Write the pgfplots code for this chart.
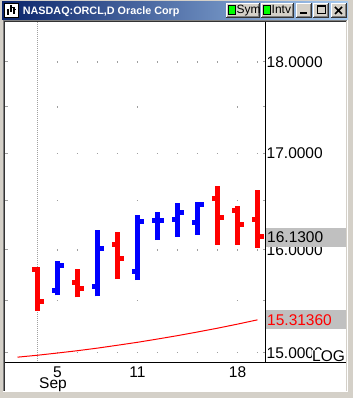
\documentclass[border=0pt]{standalone}
\usepackage{fontspec}
\setmainfont{Liberation Sans}
\usepackage{pgfplots}
\pgfplotsset{compat=1.18}
\definecolor{wingray}{HTML}{D4D0C8}
\definecolor{tbleft}{HTML}{0A246A}
\definecolor{tbright}{HTML}{A6CAF0}
\definecolor{boxgray}{HTML}{C0C0C0}
\definecolor{gridgray}{HTML}{A0A0A0}
\definecolor{barred}{HTML}{FF0000}
\definecolor{barblue}{HTML}{0000FF}
\definecolor{btngreen}{HTML}{00FF00}
\newcommand\lbl{\fontsize{15.5}{16}\selectfont}
\newcommand\winbtn[4]{%
  \fill[wingray] (#1,#2) rectangle (#3,#4);
  \draw[white,line width=1pt] (#1+0.5,#2) -- (#1+0.5,#4-0.5) -- (#3,#4-0.5);
  \draw[black!80,line width=1pt] (#1,#2+0.5) -- (#3-0.5,#2+0.5) -- (#3-0.5,#4);
  \draw[gray,line width=1pt] (#1+1,#2+1.5) -- (#3-1.5,#2+1.5) -- (#3-1.5,#4-1);
}
\begin{document}
\begin{tikzpicture}[x=1pt,y=1pt]
\useasboundingbox (0,0) rectangle (353,398);
\fill[wingray] (0,0) rectangle (353,398);
% title bar
\shade[left color=tbleft, right color=tbright] (2,378) rectangle (348,396);
% icon
\fill[white] (4,380) rectangle (19,395);
\draw[black,line width=1pt] (4.5,380.5) rectangle (18.5,394.5);
\draw[black,line width=1.5pt] (8,383) -- (8,389) (11,386) -- (11,393) (14,384) -- (14,391);
\draw[black,line width=1pt] (6.5,387) -- (8,387) (11,390) -- (12.5,390) (9.5,389) -- (11,389) (14,388) -- (15.5,388);
\node[anchor=base west, inner sep=0pt, text=white, font=\fontsize{10.8}{12}\selectfont\bfseries] at (22.7,383) {NASDAQ:ORCL,D Oracle Corp};
% buttons
\winbtn{226}{380}{260}{395}
\fill[btngreen] (228.5,383.5) rectangle (235.5,392.5);
\draw[black,line width=1pt] (228.5,383.5) rectangle (235.5,392.5);
\node[anchor=base west, inner sep=0pt, font=\fontsize{12}{13}\selectfont] at (236.5,384) {Sym};
\winbtn{261}{380}{294}{395}
\fill[btngreen] (263.5,383.5) rectangle (270.5,392.5);
\draw[black,line width=1pt] (263.5,383.5) rectangle (270.5,392.5);
\node[anchor=base west, inner sep=0pt, font=\fontsize{12}{13}\selectfont] at (271.5,384) {Intv};
\winbtn{296}{380}{312}{395}
\draw[black,line width=2pt] (300,384.5) -- (307,384.5);
\winbtn{313}{380}{329}{395}
\draw[black,line width=1pt] (317.5,384.5) rectangle (325.5,392);
\draw[black,line width=1pt] (317.5,391.5) -- (325.5,391.5);
\winbtn{331}{380}{347}{395}
\draw[black,line width=1.6pt] (335,384) -- (342,391) (335,391) -- (342,384);
% client area
\fill[white] (5,7) rectangle (346,376);
\draw[gray,line width=1pt] (3.5,6) -- (3.5,377.5) -- (347,377.5);
\draw[black!80,line width=1pt] (4.5,7) -- (4.5,376.5) -- (346,376.5);
\draw[white,line width=1pt] (3,6.5) -- (347.5,6.5) -- (347.5,378);
\begin{axis}[
  at={(5pt,35pt)}, anchor=south west, scale only axis,
  width=260pt, height=341pt,
  xmin=-1.625, xmax=11.375,
  ymode=log, ymin=14.906, ymax=18.457,
  axis line style={draw=none},
  clip=false,
  unbounded coords=jump,
  tick align=inside,
  tick style={gridgray, line width=1pt},
  major tick length=2.5pt, minor tick length=2.5pt,
  xtick={1,5,10}, xticklabels={5,11,18},
  xtick style={draw=none},
  xticklabel style={anchor=base, yshift=-14.5pt, inner sep=0pt, font=\lbl},
  extra x ticks={0}, extra x tick labels={\empty},
  extra x tick style={grid=major, major grid style={gridgray, line width=1pt, dash pattern=on 1pt off 1pt}},
  ytick={15,16,17,18}, yticklabels={15.0000,16.0000,17.0000,18.0000},
  minor ytick={15.5,16.5,17.5},
  ytick pos=both, yticklabel pos=right,
  yticklabel style={anchor=west, inner sep=0pt, xshift=1.5pt, font=\lbl},
  ymajorgrids, yminorgrids,
  major grid style={gridgray, line width=1.2pt, dash pattern=on 0pt off 51.85pt on 1.3pt off 18.7pt on 1.3pt off 18.7pt on 1.3pt off 18.7pt on 1.3pt off 18.7pt on 1.3pt off 18.7pt on 1.3pt off 18.7pt on 1.3pt off 18.7pt on 1.3pt off 18.7pt on 1.3pt off 18.7pt on 1.3pt off 18.7pt on 1.3pt off 100pt},
  minor grid style={gridgray, line width=1.2pt, dash pattern=on 0pt off 51.85pt on 1.3pt off 78.7pt on 1.3pt off 98.7pt on 1.3pt off 100pt},
]
% moving average
\addplot[barred, line width=1pt] coordinates {
 (-1,14.96) (0,14.978) (1,14.999) (2,15.021) (3,15.045) (4,15.072) (5,15.10)
 (6,15.131) (7,15.163) (8,15.198) (9,15.234) (10,15.273) (11,15.3136)};
% red bars (close < open): high-low
\addplot[barred, line width=5pt, line cap=butt] coordinates {
 (0,15.40) (0,15.83) (0,nan)
 (2,15.53) (2,15.81) (2,nan)
 (4,15.71) (4,16.18) (4,nan)
 (9,16.05) (9,16.65) (9,nan)
 (10,16.05) (10,16.45) (10,nan)
 (11,16.02) (11,16.61)};
% red opens
\addplot[barred, line width=5pt, line cap=butt] coordinates {
 (-0.275,15.80) (0,15.80) (0,nan)
 (1.725,15.68) (2,15.68) (2,nan)
 (3.725,16.05) (4,16.05) (4,nan)
 (8.725,16.52) (9,16.52) (9,nan)
 (9.725,16.40) (10,16.40) (10,nan)
 (10.725,16.31) (11,16.31)};
% red closes
\addplot[barred, line width=5pt, line cap=butt] coordinates {
 (0,15.49) (0.325,15.49) (0,nan)
 (2,15.62) (2.325,15.62) (2,nan)
 (4,15.91) (4.325,15.91) (4,nan)
 (9,16.33) (9.325,16.33) (9,nan)
 (10,16.26) (10.325,16.26) (10,nan)
 (11,16.13) (11.325,16.13)};
% blue bars: high-low
\addplot[barblue, line width=5pt, line cap=butt] coordinates {
 (1,15.55) (1,15.89) (1,nan)
 (3,15.54) (3,16.20) (3,nan)
 (5,15.70) (5,16.35) (5,nan)
 (6,16.10) (6,16.38) (6,nan)
 (7,16.13) (7,16.48) (7,nan)
 (8,16.15) (8,16.49)};
% blue opens
\addplot[barblue, line width=5pt, line cap=butt] coordinates {
 (0.725,15.60) (1,15.60) (1,nan)
 (2.725,15.64) (3,15.64) (3,nan)
 (4.725,15.79) (5,15.79) (5,nan)
 (5.725,16.30) (6,16.30) (6,nan)
 (6.725,16.31) (7,16.31) (7,nan)
 (7.725,16.28) (8,16.28)};
% blue closes
\addplot[barblue, line width=5pt, line cap=butt] coordinates {
 (1,15.84) (1.325,15.84) (1,nan)
 (3,16.01) (3.325,16.01) (3,nan)
 (5,16.29) (5.325,16.29) (5,nan)
 (6,16.30) (6.325,16.30) (6,nan)
 (7,16.38) (7.325,16.38) (7,nan)
 (8,16.46) (8.325,16.46)};
\node[anchor=base, yshift=-26pt, inner sep=0pt, font=\lbl] at (axis cs:0.775,14.906) {Sep};
\coordinate (cA) at (axis cs:11.375,16.13);
\coordinate (cB) at (axis cs:11.375,15.3136);
\end{axis}
\node[fill=boxgray, anchor=west, inner xsep=1.5pt, inner ysep=0pt, minimum height=19pt, text width=77.5pt, align=left, font=\lbl] at ([xshift=0.5pt]cA) {16.1300};
\node[fill=boxgray, anchor=west, inner xsep=1.5pt, inner ysep=0pt, minimum height=19pt, text width=77.5pt, align=left, font=\lbl, text=barred] at ([xshift=0.5pt]cB) {15.31360};
\node[fill=white, anchor=base west, inner xsep=0.5pt, inner ysep=1pt, font=\lbl] at (311.5,36.5) {LOG};
% axis lines
\draw[black,line width=1pt] (5,35.5) -- (346,35.5);
\draw[black,line width=1pt] (265.5,35) -- (265.5,376);
\end{tikzpicture}
\end{document}
